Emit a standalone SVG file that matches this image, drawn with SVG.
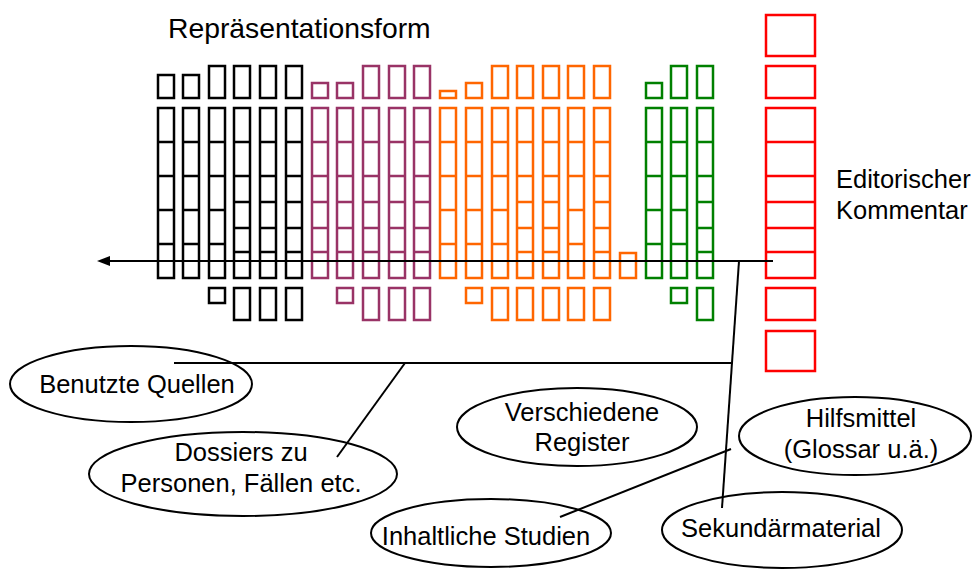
<svg xmlns="http://www.w3.org/2000/svg" xmlns:xlink="http://www.w3.org/1999/xlink" width="972" height="570" viewBox="0 0 972 570">
<style>
text{font-family:"Liberation Sans",Arial,sans-serif;font-size:25.5px;fill:#000}
.t{text-anchor:middle}
.bx{fill:none;stroke-width:2.5}
.k{stroke:#000}
.p{stroke:#993366}
.o{stroke:#FF6600}
.g{stroke:#008000}
.r{stroke:#FF0000}
.el{fill:none;stroke:#000;stroke-width:2}
.ln{fill:none;stroke:#000;stroke-width:2}
</style>
<defs>
<g id="colA"><rect x="1" y="108" width="16" height="170"/><path d="M1 142h16M1 176h16M1 210h16M1 244h16"/></g>
<g id="colB"><rect x="1" y="108" width="16" height="170"/><path d="M1 142h16M1 176h16M1 202h16M1 228h16M1 252h16"/></g>
<g id="tall"><rect x="1" y="66" width="16" height="32"/></g>
<g id="smallK"><rect x="1" y="75" width="16" height="23"/></g>
<g id="small"><rect x="1" y="83" width="16" height="15"/></g>
<g id="tiny"><rect x="1" y="91" width="16" height="7"/></g>
<g id="bSmall"><rect x="1" y="288" width="16" height="15"/></g>
<g id="bTall"><rect x="1" y="288" width="16" height="32"/></g>
<marker id="ah" markerWidth="13" markerHeight="10" refX="0" refY="5" orient="auto-start-reverse" markerUnits="userSpaceOnUse"><path d="M0 0L13 5L0 10z" fill="#000"/></marker>
</defs>
<text x="168" y="38" style="font-size:28.3px">Repräsentationsform</text>
<g id="black" class="bx k">
<use xlink:href="#smallK" x="157"/><use xlink:href="#smallK" x="182"/><use xlink:href="#tall" x="208"/><use xlink:href="#tall" x="233"/><use xlink:href="#tall" x="259"/><use xlink:href="#tall" x="285"/>
<use xlink:href="#colA" x="157"/><use xlink:href="#colA" x="182"/><use xlink:href="#colA" x="208"/><use xlink:href="#colB" x="233"/><use xlink:href="#colB" x="259"/><use xlink:href="#colB" x="285"/>
<use xlink:href="#bSmall" x="208"/><use xlink:href="#bTall" x="233"/><use xlink:href="#bTall" x="259"/><use xlink:href="#bTall" x="285"/>
</g>
<g id="purple" class="bx p">
<use xlink:href="#small" x="311"/><use xlink:href="#small" x="336"/><use xlink:href="#tall" x="362"/><use xlink:href="#tall" x="388"/><use xlink:href="#tall" x="413"/>
<use xlink:href="#colB" x="311"/><use xlink:href="#colB" x="336"/><use xlink:href="#colB" x="362"/><use xlink:href="#colB" x="388"/><use xlink:href="#colB" x="413"/>
<use xlink:href="#bSmall" x="336"/><use xlink:href="#bTall" x="362"/><use xlink:href="#bTall" x="388"/><use xlink:href="#bTall" x="413"/>
</g>
<g id="orange" class="bx o">
<use xlink:href="#tiny" x="439"/><use xlink:href="#small" x="465"/><use xlink:href="#tall" x="491"/><use xlink:href="#tall" x="516"/><use xlink:href="#tall" x="542"/><use xlink:href="#tall" x="567"/><use xlink:href="#tall" x="593"/>
<use xlink:href="#colA" x="439"/><use xlink:href="#colA" x="465"/><use xlink:href="#colA" x="491"/><use xlink:href="#colB" x="516"/><use xlink:href="#colB" x="542"/><use xlink:href="#colA" x="567"/><use xlink:href="#colB" x="593"/>
<rect x="620" y="253" width="16" height="25"/>
<use xlink:href="#bSmall" x="465"/><use xlink:href="#bTall" x="491"/><use xlink:href="#bTall" x="516"/><use xlink:href="#bTall" x="542"/><use xlink:href="#bTall" x="567"/><use xlink:href="#bTall" x="593"/>
</g>
<g id="green" class="bx g">
<use xlink:href="#small" x="645"/><use xlink:href="#tall" x="670"/><use xlink:href="#tall" x="696"/>
<use xlink:href="#colA" x="645"/><use xlink:href="#colA" x="670"/><use xlink:href="#colB" x="696"/>
<use xlink:href="#bSmall" x="670"/><use xlink:href="#bTall" x="696"/>
</g>
<g id="red" class="bx r">
<rect x="766" y="15" width="49" height="41"/>
<rect x="766" y="66" width="49" height="32"/>
<rect x="766" y="108" width="49" height="170"/>
<path d="M766 142h49M766 176h49M766 202h49M766 228h49M766 252h49"/>
<rect x="766" y="288" width="49" height="32"/>
<rect x="766" y="331" width="49" height="40"/>
</g>
<text x="836" y="188">Editorischer</text>
<text x="836" y="219">Kommentar</text>
<g id="connectors">
<path class="ln" d="M773 261H110" marker-end="url(#ah)"/>
<path class="ln" d="M739 261L722 508"/>
<path class="ln" d="M174 363H731"/>
<path class="ln" d="M405 363L337 457"/>
<path class="ln" d="M731 449L560 517"/>
</g>
<g id="n-benutzte"><ellipse class="el" cx="131" cy="384" rx="121" ry="38"/><text class="t" x="137" y="393">Benutzte Quellen</text></g>
<g id="n-dossiers"><ellipse class="el" cx="243" cy="474" rx="154" ry="42"/><text class="t" x="241" y="461">Dossiers zu</text><text class="t" x="241" y="492">Personen, Fällen etc.</text></g>
<g id="n-register"><ellipse class="el" cx="577" cy="427" rx="120" ry="39"/><text class="t" x="582" y="421">Verschiedene</text><text class="t" x="582" y="451">Register</text></g>
<g id="n-studien"><ellipse class="el" cx="491" cy="533" rx="120" ry="34"/><text class="t" x="486" y="545">Inhaltliche Studien</text></g>
<g id="n-sekundaer"><ellipse class="el" cx="782" cy="530" rx="120" ry="38"/><text class="t" x="781" y="537">Sekundärmaterial</text></g>
<g id="n-hilfsmittel"><ellipse class="el" cx="855" cy="436" rx="116" ry="39"/><text class="t" x="861" y="427">Hilfsmittel</text><text class="t" x="861" y="458">(Glossar u.ä.)</text></g>
</svg>
